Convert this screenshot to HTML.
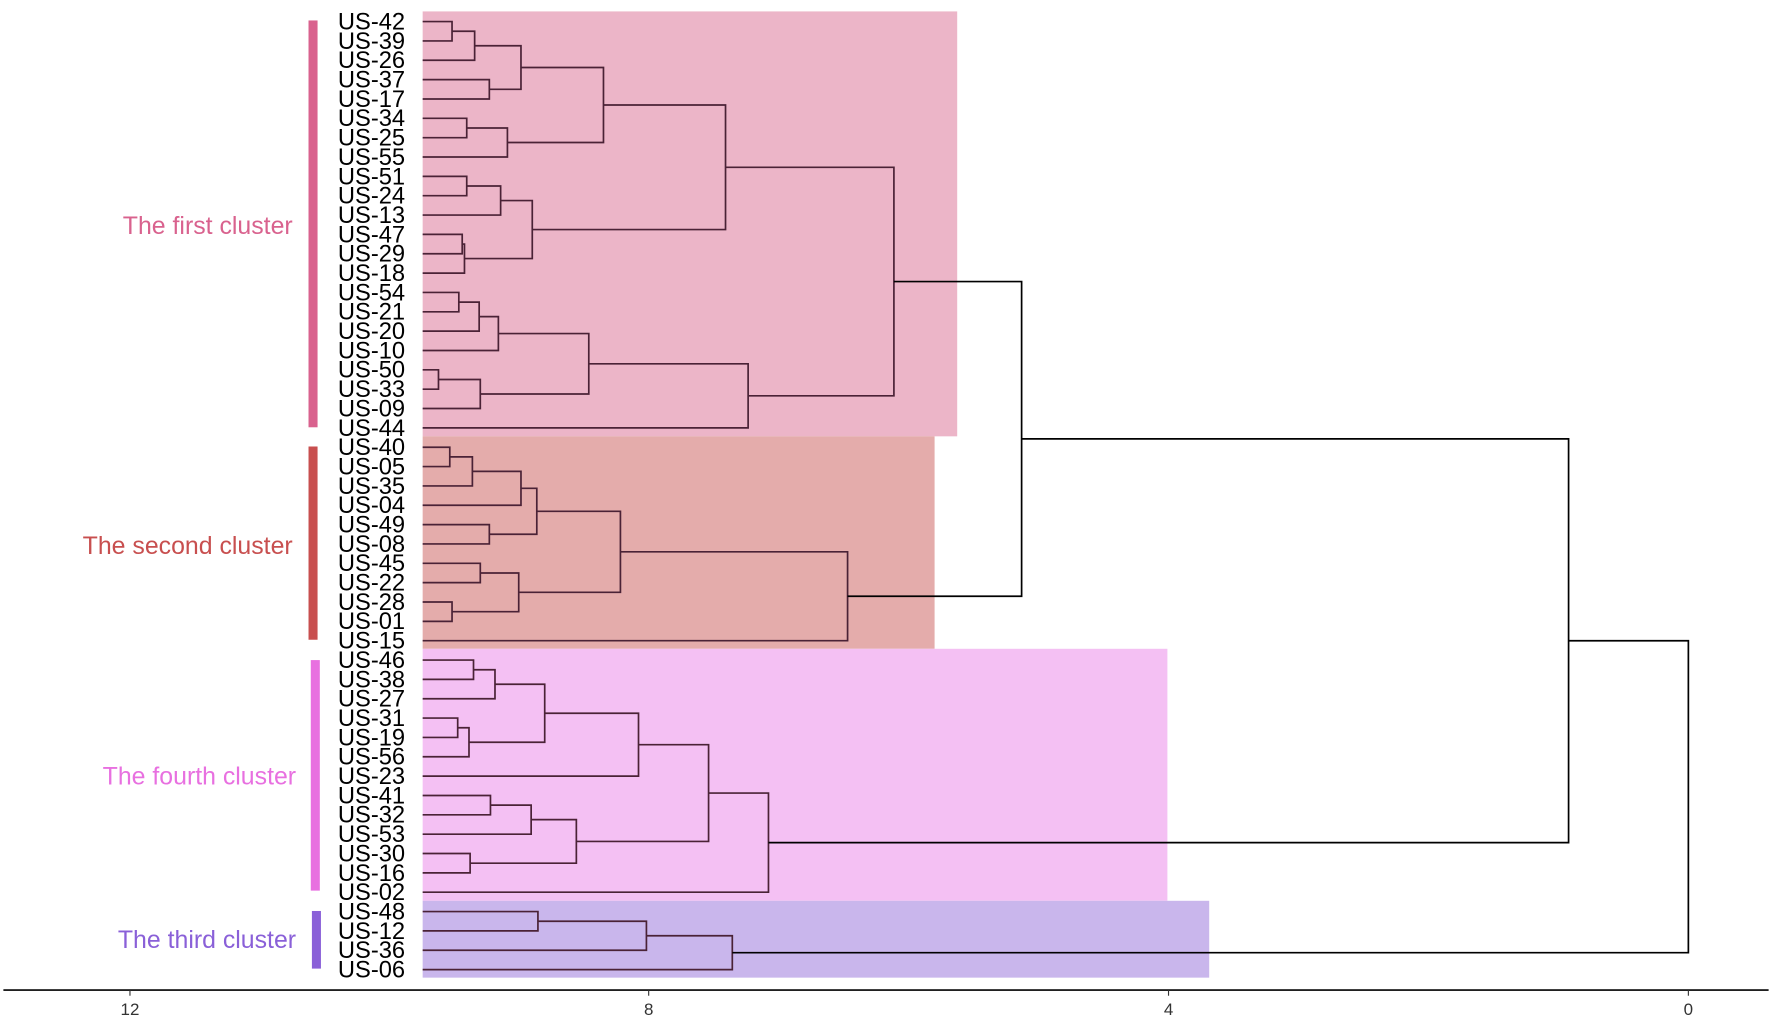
<html><head><style>body{margin:0;background:#fff}svg{display:block}</style></head><body>
<svg id="s" width="1772" height="1032" viewBox="0 0 1568 913" xmlns="http://www.w3.org/2000/svg" font-family="Liberation Sans, sans-serif">
<rect x="374" y="10" width="473" height="376" fill="#ecb5c8"/>
<rect x="374" y="386" width="453" height="188" fill="#e4acab"/>
<rect x="374" y="574" width="659" height="223" fill="#f4c0f3"/>
<rect x="374" y="797" width="696" height="68" fill="#c9b6ec"/>
<rect x="273" y="18" width="8" height="360" fill="#d9628e"/>
<rect x="273" y="395" width="8" height="171" fill="#c84f4f"/>
<rect x="275" y="584" width="8" height="204" fill="#e870e0"/>
<rect x="276" y="806" width="8" height="51" fill="#8a60d8"/>
<g font-size="22" text-anchor="end">
<text x="259" y="207" fill="#d9628e">The first cluster</text>
<text x="259" y="490" fill="#c84f4f">The second cluster</text>
<text x="262" y="694" fill="#e870e0">The fourth cluster</text>
<text x="262" y="839" fill="#8a60d8">The third cluster</text>
</g>
<line x1="3" y1="876" x2="1565" y2="876" stroke="#000" stroke-width="1.5"/>
<g font-size="15" text-anchor="middle" fill="#333">
<line x1="115" y1="876" x2="115" y2="881" stroke="#333"/><text x="115" y="898">12</text>
<line x1="574" y1="876" x2="574" y2="881" stroke="#333"/><text x="574" y="898">8</text>
<line x1="1034" y1="876" x2="1034" y2="881" stroke="#333"/><text x="1034" y="898">4</text>
<line x1="1494" y1="876" x2="1494" y2="881" stroke="#333"/><text x="1494" y="898">0</text>
</g>
<g id="lab" font-size="21" fill="#000"></g>
<g id="ln" fill="none" stroke-width="1.5"></g>
</svg>
<script>
var L="42 39 26 37 17 34 25 55 51 24 13 47 29 18 54 21 20 10 50 33 09 44 40 05 35 04 49 08 45 22 28 01 15 46 38 27 31 19 56 23 41 32 53 30 16 02 48 12 36 06".split(" ");
var lab=document.getElementById("lab"),ln=document.getElementById("ln");
var Y={},h="";
L.forEach(function(n,i){var y=19+17.12*i;Y[n]={x:374,y:y};h+='<text x="299" y="'+(y+7)+'">US-'+n+'</text>';});
lab.innerHTML=h;
var P="";
function m(a,b,x,name,col){var A=typeof a=="string"?Y[a]:a,B=typeof b=="string"?Y[b]:b;
P+='<path stroke="'+(col||"#4a2236")+'" d="M'+A.x+' '+A.y+'H'+x+'V'+B.y+'H'+B.x+'"/>';
return {x:x,y:(A.y+B.y)/2};}
var c1=m(m(m(m(m("42","39",400),"26",420),m("37","17",433),461),m(m("34","25",413),"55",449),534),m(m(m("51","24",413),"13",443),m(m("47","29",409),"18",411),471),642);
var t1=m(m(m(m(m("54","21",406),"20",424),"10",441),m(m("50","33",388),"09",425),521),"44",662);
c1=m(c1,t1,791);
var c2=m(m(m(m(m(m("40","05",398),"35",418),"04",461),m("49","08",433),475),m(m("45","22",425),m("28","01",400),459),549),"15",750);
var c12=m(c1,c2,904,0,"#000");
var g4=m(m(m(m("46","38",419),"27",438),m(m("31","19",405),"56",415),482),"23",565);
var g5=m(m(m("41","32",434),"53",470),m("30","16",416),510);
var c4=m(m(g4,g5,627),"02",680);
var c3=m(m(m("48","12",476),"36",572),"06",648);
var r=m(c12,c4,1388,0,"#000");
m(r,c3,1494,0,"#000");
ln.innerHTML=P;
</script>
</body></html>
